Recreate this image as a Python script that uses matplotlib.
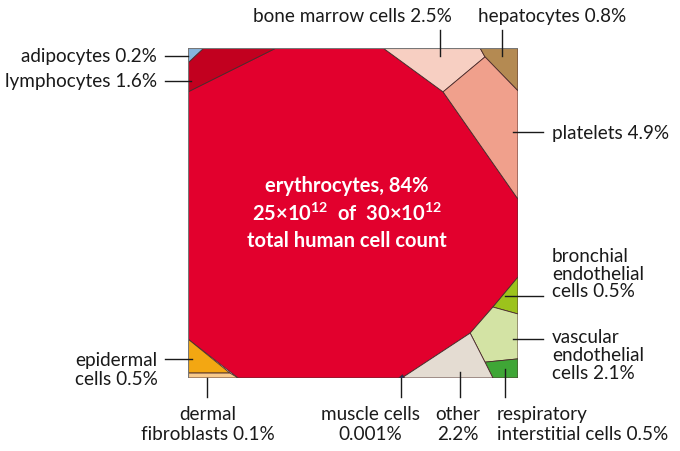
import matplotlib
matplotlib.use("Agg")
import matplotlib.pyplot as plt
from matplotlib.patches import Polygon

plt.rcParams['font.family'] = ['Lato', 'DejaVu Sans']
plt.rcParams['mathtext.fontset'] = 'custom'
plt.rcParams['mathtext.rm'] = 'Lato'
plt.rcParams['mathtext.bf'] = 'Lato:bold'

# cell types and share of total human cell count (%)
cells = ['erythrocytes', 'lymphocytes', 'adipocytes', 'bone marrow cells', 'hepatocytes',
         'platelets', 'bronchial endothelial cells', 'vascular endothelial cells',
         'respiratory interstitial cells', 'other', 'muscle cells',
         'epidermal cells', 'dermal fibroblasts']
shares = [84, 1.6, 0.2, 2.5, 0.8, 4.9, 0.5, 2.1, 0.5, 2.2, 0.001, 0.5, 0.1]
colors = ['#e2002d', '#c2001f', '#86b4de', '#f7cfc2', '#b48a52', '#f0a08c', '#9cc31c',
          '#d3e3a4', '#3fa636', '#e4dcd2', '#1f2a6b', '#f3a712', '#f8ca8c']

# voronoi treemap cell outlines, in units of the unit square (0..100)
cell_shapes = {
    'erythrocytes': [(0, 86.7), (26.7, 100), (59.1, 100), (77.3, 86.7), (100, 54.2),
                     (100, 30.6), (92.4, 21.5), (85.5, 13.6), (64.8, 0), (15.2, 0), (0, 11.8)],
    'lymphocytes': [(0, 95.5), (4.8, 100), (26.7, 100), (0, 86.7)],
    'adipocytes': [(0, 100), (4.8, 100), (0, 95.5)],
    'bone marrow cells': [(59.1, 100), (88.5, 100), (90, 97.3), (77.3, 86.7)],
    'hepatocytes': [(88.5, 100), (100, 100), (100, 87), (90, 97.3)],
    'platelets': [(77.3, 86.7), (90, 97.3), (100, 87), (100, 54.2)],
    'bronchial endothelial cells': [(100, 30.6), (100, 19.4), (92.4, 21.5)],
    'vascular endothelial cells': [(85.5, 13.6), (92.4, 21.5), (100, 19.4), (100, 5.8), (90, 4.8)],
    'respiratory interstitial cells': [(90, 4.8), (100, 5.8), (100, 0), (92.4, 0)],
    'other': [(64.8, 0), (85.5, 13.6), (90, 4.8), (92.4, 0)],
    'muscle cells': [(63.9, 0), (65.0, 1.0), (65.6, 0)],
    'epidermal cells': [(0, 11.8), (12.7, 1.5), (0, 1.5)],
    'dermal fibroblasts': [(0, 1.5), (12.7, 1.5), (15.2, 0), (0, 0)],
}

fig = plt.figure(figsize=(6.8, 4.52), dpi=100)
ax = fig.add_axes([188 / 680, 73 / 452, 330 / 680, 330 / 452])
ax.set_xlim(0, 100)
ax.set_ylim(0, 100)
ax.axis('off')

for name, col in zip(cells, colors):
    ax.add_patch(Polygon(cell_shapes[name], closed=True, facecolor=col,
                         edgecolor='#4a2a2a', linewidth=0.6))
ax.add_patch(plt.Rectangle((0, 0), 100, 100, fill=False, edgecolor='#777777', linewidth=0.8))

pct = {c: s for c, s in zip(cells, shares)}


def fmt(v):
    return ('%g' % v) + '%'


fs = 13.6
kw = dict(fontsize=fs, color='#1a1a1a', clip_on=False)
lk = dict(color='#1a1a1a', linewidth=1.0, clip_on=False)

# left side
ax.text(-9.4, 97.6, 'adipocytes ' + fmt(pct['adipocytes']), ha='right', va='center', **kw)
ax.plot([-7, 0], [97.6, 97.6], **lk)
ax.text(-9.4, 90, 'lymphocytes ' + fmt(pct['lymphocytes']), ha='right', va='center', **kw)
ax.plot([-7, 0.8], [90, 90], **lk)
ax.text(-21.8, 2.7, 'epidermal\ncells ' + fmt(pct['epidermal cells']), ha='center',
        va='center', linespacing=1.12, **kw)
ax.plot([-7, 1.2], [5.8, 5.8], **lk)

# top
ax.text(49.8, 109.8, 'bone marrow cells ' + fmt(pct['bone marrow cells']), ha='center',
        va='center', **kw)
ax.plot([76.4, 76.4], [105.5, 97.6], **lk)
ax.text(110.3, 109.8, 'hepatocytes ' + fmt(pct['hepatocytes']), ha='center', va='center', **kw)
ax.plot([95.2, 95.2], [105.5, 97.6], **lk)

# right side
ax.text(110.3, 74.5, 'platelets ' + fmt(pct['platelets']), ha='left', va='center', **kw)
ax.plot([98.5, 107.6], [74.5, 74.5], **lk)
ax.text(110.3, 31.8, 'bronchial\nendothelial\ncells ' + fmt(pct['bronchial endothelial cells']),
        ha='left', va='center', linespacing=1.02, **kw)
ax.plot([96, 107.6], [24.8, 24.8], **lk)
ax.text(110.3, 15.2, 'vascular\nendothelial\ncells ' + fmt(pct['vascular endothelial cells']),
        ha='left', va='top', linespacing=1.06, **kw)
ax.plot([98.5, 107.6], [11.8, 11.8], **lk)

# bottom
ax.text(6, -8.3, 'dermal\nfibroblasts ' + fmt(pct['dermal fibroblasts']), ha='center',
        va='top', linespacing=1.2, **kw)
ax.plot([5.8, 5.8], [0, -5.8], **lk)
ax.text(55.2, -8.3, 'muscle cells\n' + fmt(pct['muscle cells']), ha='center', va='top',
        linespacing=1.2, **kw)
ax.plot([64.5, 64.5], [0, -5.8], **lk)
ax.text(81.8, -8.3, 'other\n' + fmt(pct['other']), ha='center', va='top', linespacing=1.2, **kw)
ax.plot([82.4, 82.4], [1.8, -5.8], **lk)
ax.text(93.6, -8.3, 'respiratory\ninterstitial cells ' + fmt(pct['respiratory interstitial cells']),
        ha='left', va='top', linespacing=1.2, **kw)
ax.plot([96.1, 96.1], [2.7, -5.8], **lk)

# centre label
ck = dict(ha='center', va='center', color='white', fontsize=14.5, fontweight='bold')
ax.text(48.2, 58.5, 'erythrocytes, ' + fmt(pct['erythrocytes']), **ck)
ax.text(48.2, 50.0, r'25×10$^{\mathbf{12}}$  of  30×10$^{\mathbf{12}}$', **ck)
ax.text(48.2, 41.8, 'total human cell count', **ck)

fig.savefig('out.png', dpi=100)
